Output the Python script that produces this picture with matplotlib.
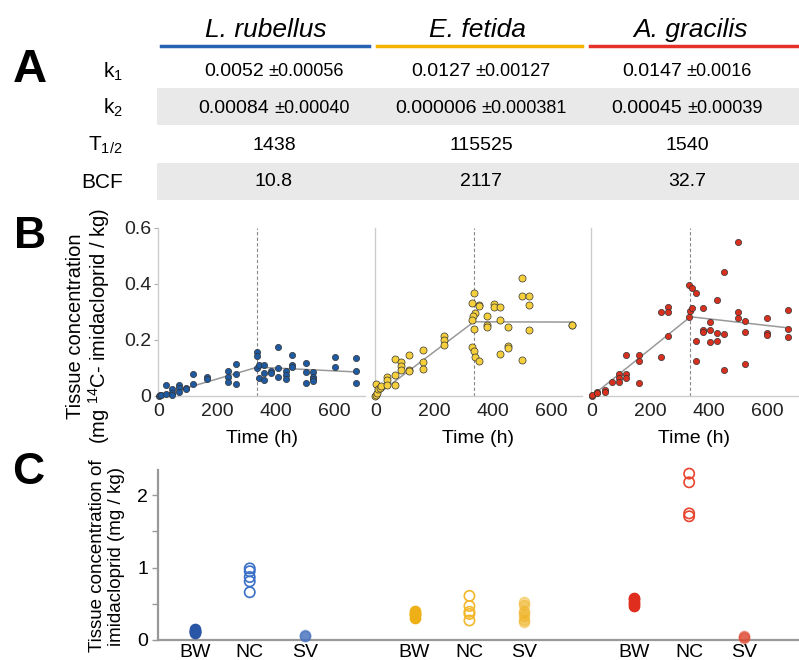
import matplotlib
matplotlib.use("Agg")
import matplotlib.pyplot as plt
from matplotlib.patches import Rectangle
from matplotlib.lines import Line2D

plt.rcParams['font.family'] = ['Liberation Sans', 'DejaVu Sans']
plt.rcParams['mathtext.default'] = 'regular'

# ---- panel A table ----
species = ['L. rubellus', 'E. fetida', 'A. gracilis']
sp_colors = ['#2763b0', '#f5b301', '#e53228']
row_labels = ['k$_1$', 'k$_2$', 'T$_{1/2}$', 'BCF']
k1_vals = ['0.0052', '0.0127', '0.0147']
k1_err = ['±0.00056', '±0.00127', '±0.0016']
k2_vals = ['0.00084', '0.000006', '0.00045']
k2_err = ['±0.00040', '±0.000381', '±0.00039']
half_life = ['1438', '115525', '1540']
bcf = ['10.8', '2117', '32.7']

# ---- panel B uptake / elimination ----
lr_t = [0, 4, 8, 23, 23, 45, 45, 45, 70, 70, 70, 92, 92, 117, 117, 164, 164,
        237, 237, 237, 263, 263, 263, 334, 334, 334, 342, 342, 360, 360, 360,
        383, 383, 407, 407, 407, 432, 432, 432, 455, 455, 455, 503, 503, 503,
        526, 526, 526, 526, 599, 599, 672, 672, 672]
lr_c = [0.0, 0.003, 0.005, 0.040, 0.006, 0.024, 0.012, 0.004, 0.040, 0.030, 0.013,
        0.030, 0.024, 0.080, 0.043, 0.069, 0.061, 0.089, 0.069, 0.049, 0.113, 0.078,
        0.043, 0.156, 0.144, 0.100, 0.111, 0.064, 0.111, 0.082, 0.058, 0.090, 0.082,
        0.175, 0.100, 0.069, 0.091, 0.075, 0.061, 0.145, 0.111, 0.103, 0.117, 0.085,
        0.046, 0.085, 0.069, 0.061, 0.054, 0.138, 0.104, 0.137, 0.090, 0.046]

ef_t = [0, 2, 4, 1, 8, 15, 19, 41, 41, 41, 67, 67, 67, 89, 89, 89, 114, 114, 114,
        161, 161, 161, 235, 235, 235, 330, 337, 340, 354, 336, 330, 354, 354,
        340, 333, 330, 337, 381, 381, 381, 404, 404, 426, 426, 426, 452, 452, 452,
        500, 500, 500, 523, 523, 523, 670, 670]
ef_c = [0.0, 0.004, 0.010, 0.042, 0.024, 0.030, 0.036, 0.069, 0.058, 0.040, 0.132,
        0.076, 0.040, 0.123, 0.108, 0.092, 0.145, 0.092, 0.090, 0.163, 0.122, 0.096,
        0.213, 0.201, 0.183, 0.175, 0.159, 0.141, 0.126, 0.367, 0.332, 0.326, 0.323,
        0.295, 0.285, 0.273, 0.241, 0.285, 0.255, 0.246, 0.327, 0.318, 0.318, 0.273,
        0.150, 0.246, 0.177, 0.172, 0.421, 0.356, 0.130, 0.356, 0.326, 0.234, 0.255,
        0.252]

ag_t = [0, 2, 19, 19, 44, 44, 68, 92, 92, 92, 115, 115, 115, 162, 162, 162, 236, 236,
        261, 261, 261, 330, 340, 356, 333, 340, 332, 356, 356, 380, 380, 380,
        404, 404, 404, 427, 427, 427, 452, 452, 452, 499, 499, 499, 522, 522, 522,
        596, 596, 596, 669, 669, 669]
ag_c = [0.0, 0.004, 0.013, 0.010, 0.022, 0.016, 0.051, 0.079, 0.064, 0.049, 0.079,
        0.064, 0.145, 0.145, 0.126, 0.047, 0.300, 0.139, 0.319, 0.300, 0.215, 0.398,
        0.386, 0.367, 0.305, 0.314, 0.282, 0.195, 0.126, 0.313, 0.234, 0.230, 0.265,
        0.237, 0.194, 0.344, 0.224, 0.197, 0.442, 0.223, 0.092, 0.549, 0.300, 0.279,
        0.269, 0.229, 0.116, 0.277, 0.225, 0.218, 0.307, 0.240, 0.211]

fit_t = [0, 336, 672]
lr_fit = [0, 0.103, 0.086]
ef_fit = [0, 0.265, 0.264]
ag_fit = [0, 0.283, 0.243]
switch_t = 336

# ---- panel C field concentrations ----
groups = ['BW', 'NC', 'SV']
lr_bw = [0.09, 0.11, 0.12, 0.13, 0.15]
lr_nc = [0.99, 0.95, 0.87, 0.81, 0.66]
lr_sv = [0.05, 0.06, 0.07]
ef_bw = [0.31, 0.34, 0.36, 0.38, 0.40]
ef_nc = [0.61, 0.47, 0.39, 0.36, 0.27]
ef_sv = [0.52, 0.48, 0.40, 0.37, 0.33, 0.28, 0.25]
ag_bw = [0.47, 0.50, 0.53, 0.56, 0.58]
ag_nc = [2.30, 2.18, 1.75, 1.71]
ag_sv = [0.03, 0.04, 0.05]

W, H = 799, 660
fig = plt.figure(figsize=(W / 100, H / 100), dpi=100)


def fx(px):
    return px / W


def fy(py):
    return 1 - py / H


def add_axes_px(left, top, width, height):
    return fig.add_axes([fx(left), fy(top + height), width / W, height / H])


# panel letters
fig.text(fx(30), fy(70), 'A', fontsize=34, fontweight='bold', ha='center', va='center')
fig.text(fx(30), fy(237), 'B', fontsize=32, fontweight='bold', ha='center', va='center')
fig.text(fx(28), fy(473), 'C', fontsize=32, fontweight='bold', ha='center', va='center')

# ---- A ----
for top, bot in [(88, 125), (163, 200)]:
    fig.add_artist(Rectangle((fx(157), fy(bot)), 1 - fx(157), (bot - top) / H,
                             transform=fig.transFigure, color='#e9e9e9', zorder=0, lw=0))

title_x = [266, 477, 691]
val_x = [274, 481, 687]
line_x = [(161, 369), (377, 582), (590, 797)]
for i, sp in enumerate(species):
    fig.text(fx(title_x[i]), fy(30), sp, fontsize=19, style='italic', ha='center', va='center')
    x0, x1 = line_x[i]
    fig.add_artist(Line2D([fx(x0), fx(x1)], [fy(46), fy(46)], transform=fig.transFigure,
                          color=sp_colors[i], lw=2.5))

row_y = [72, 108, 145, 182]
for lab, y in zip(row_labels, row_y):
    fig.text(fx(123), fy(y), lab, fontsize=15, ha='right', va='center')

renderer = fig.canvas.get_renderer()


def two_part(cx, y, main, err):
    t1 = fig.text(0, fy(y), main, fontsize=14, ha='left', va='baseline')
    t2 = fig.text(0, fy(y), err, fontsize=13, ha='left', va='baseline')
    w1 = t1.get_window_extent(renderer).width
    w2 = t2.get_window_extent(renderer).width
    gap = 5
    start = cx - (w1 + gap + w2) / 2
    t1.set_x(fx(start))
    t2.set_x(fx(start + w1 + gap))


for i in range(3):
    two_part(val_x[i], 76, k1_vals[i], k1_err[i])
    two_part(val_x[i], 113, k2_vals[i], k2_err[i])
    fig.text(fx(val_x[i]), fy(row_y[2]), half_life[i], fontsize=14, ha='center', va='center')
    fig.text(fx(val_x[i]), fy(row_y[3]), bcf[i], fontsize=14, ha='center', va='center')

# ---- B ----
b_left = [158, 374.5, 591]
b_data = [(lr_t, lr_c, lr_fit, '#1f5aa0', 20),
          (ef_t, ef_c, ef_fit, '#f6d03c', 26),
          (ag_t, ag_c, ag_fit, '#d8301f', 20)]
for i, (tt, cc, fit, col, sz) in enumerate(b_data):
    ax = add_axes_px(b_left[i], 228, 207, 168)
    ax.set_xlim(-3, 703)
    ax.set_ylim(0, 0.6)
    ax.axvline(switch_t, color='#888888', lw=0.8, ls=(0, (3, 2)), zorder=1)
    ax.plot(fit_t, fit, color='#999999', lw=1.1, zorder=2)
    ax.scatter(tt, cc, s=sz, color=col, edgecolors='#333333', linewidths=0.5,
               zorder=3, clip_on=False)
    for s in ['top', 'right']:
        ax.spines[s].set_visible(False)
    for s in ['left', 'bottom']:
        ax.spines[s].set_color('#cccccc')
        ax.spines[s].set_linewidth(1)
    ax.set_xticks([0, 200, 400, 600])
    ax.tick_params(axis='x', labelsize=14, length=0, pad=5, colors='#222222')
    if i == 0:
        ax.set_yticks([0, 0.2, 0.4, 0.6])
        ax.set_yticklabels(['0', '0.2', '0.4', '0.6'])
        ax.tick_params(axis='y', labelsize=14, length=3, color='#aaaaaa', pad=2, labelcolor='#222222')
    else:
        ax.set_yticks([])
    ax.set_xlabel('Time (h)', fontsize=14, labelpad=7)

fig.text(fx(89), fy(326), 'Tissue concentration\n(mg $^{14}$C- imidacloprid / kg)',
         rotation=90, fontsize=14.5, ha='center', va='center', linespacing=1.1)

# ---- C ----
axc = add_axes_px(158, 470, 641, 170)
axc.set_xlim(0.33, 12)
axc.set_ylim(0, 2.35)
c_sets = [
    (1, lr_bw, 'fill', '#2a56a6'), (2, lr_nc, 'open', '#3a70c8'), (3, lr_sv, 'half', '#4a74c0'),
    (5, ef_bw, 'fill', '#efaf16'), (6, ef_nc, 'open', '#f2b72a'), (7, ef_sv, 'half', '#f0b323'),
    (9, ag_bw, 'fill', '#df2e1d'), (10, ag_nc, 'open', '#e8442e'), (11, ag_sv, 'half', '#e04a33'),
]
for xpos, vals, kind, col in c_sets:
    xs = [xpos] * len(vals)
    if kind == 'fill':
        axc.scatter(xs, vals, s=55, color=col, edgecolors=col, linewidths=1, zorder=3, clip_on=False)
    elif kind == 'open':
        axc.scatter(xs, vals, s=55, facecolors='none', edgecolors=col, linewidths=1.2,
                    zorder=3, clip_on=False)
    else:
        axc.scatter(xs, vals, s=55, facecolors=col, alpha=0.45, edgecolors=col, linewidths=1,
                    zorder=3, clip_on=False)
for s in ['top', 'right']:
    axc.spines[s].set_visible(False)
for s in ['left', 'bottom']:
    axc.spines[s].set_color('#999999')
    axc.spines[s].set_linewidth(1.6)
axc.set_yticks([0, 0.5, 1, 1.5, 2])
axc.set_yticklabels(['0', '', '1', '', '2'])
axc.set_xticks([1, 2, 3, 5, 6, 7, 9, 10, 11])
axc.set_xticklabels(groups * 3)
axc.tick_params(axis='y', labelsize=14, length=4, width=1, color='#999999', pad=3)
axc.tick_params(axis='x', labelsize=14, length=0, pad=3)

fig.text(fx(107), fy(556), 'Tissue concentration of\nimidacloprid (mg / kg)',
         rotation=90, fontsize=13.5, ha='center', va='center', linespacing=1.15)

fig.savefig('out.png', dpi=100)
